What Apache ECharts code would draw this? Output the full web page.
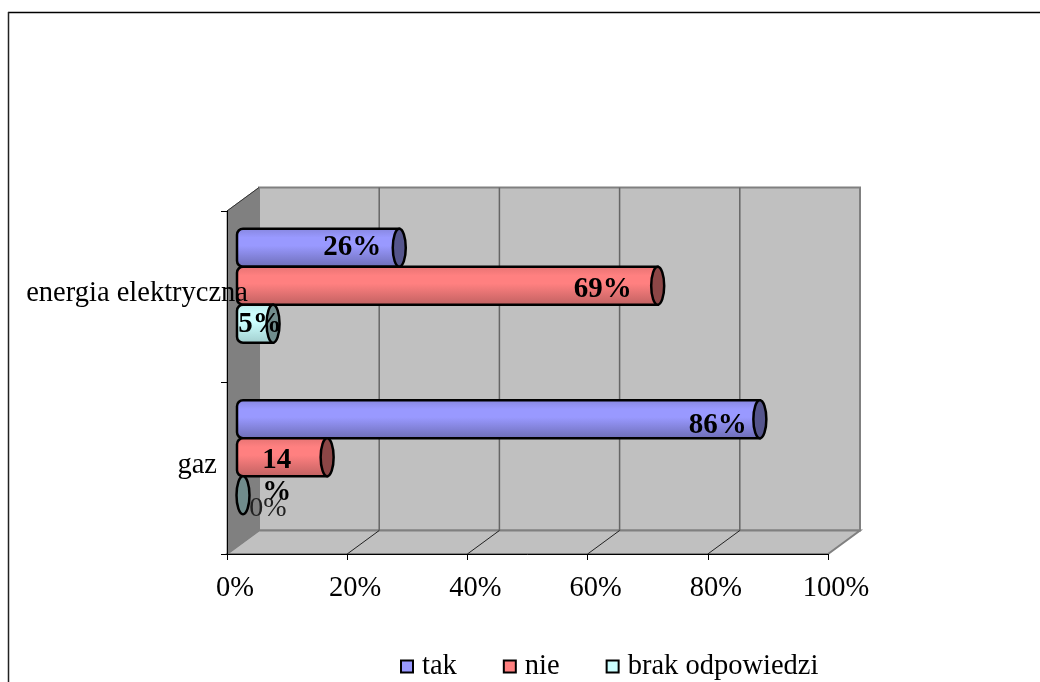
<!DOCTYPE html>
<html>
<head>
<meta charset="utf-8">
<style>html,body{margin:0;padding:0;background:#fff}#chart{width:1040px;height:682px}</style>
<script src="https://cdn.jsdelivr.net/npm/echarts@6/dist/echarts.min.js"></script>
</head>
<body>
<div id="chart"></div>
<script>
// Answers by energy source, share of respondents in percent
const categories = ['gaz', 'energia elektryczna'];
const tak = [86, 26];
const nie = [14, 69];
const brakOdpowiedzi = [0, 5];
const percentTicks = [0, 20, 40, 60, 80, 100];

const FONT = '"Liberation Serif", serif';
const DEPTH_X = 32, DEPTH_Y = -23.5;   // oblique offset of the back wall
const BAR_DX = 16, BAR_DY = -11;       // bars sit midway into the depth
const BAR_H = 38, CAP_RX = 6.5;

const palettes = {
  tak: { face: '#9999FF', top: '#8585DC', bottom: '#6C6CB4', cap: '#55558C' },
  nie: { face: '#FF8080', top: '#E47272', bottom: '#BE6060', cap: '#8C4646' },
  brak: { face: '#CCFFFF', top: '#BBEBEB', bottom: '#A0CCCC', cap: '#708C8C' }
};

// Hand placement of the value labels, relative to the bar's end cap
const labelPlacement = {
  'tak-0': { dx: -42, dy: 6 }, 'tak-1': { dx: -47, dy: 0 },
  'nie-0': { dx: -65, dy: 19, align: 'left' }, 'nie-1': { dx: -55, dy: 4 },
  'brak-0': { dx: 25, dy: 13 }, 'brak-1': { dx: -13, dy: 1 }
};

// Back wall, side wall, floor and their gridlines, taken from the grid rectangle
function renderWalls(params, api) {
  const x0 = params.coordSys.x, x1 = x0 + params.coordSys.width;
  const yTop = params.coordSys.y, yBottom = yTop + params.coordSys.height;
  const gray = '#808080';
  const children = [
    { type: 'polygon', shape: { points: [[x0 + DEPTH_X, yBottom + DEPTH_Y], [x1 + DEPTH_X, yBottom + DEPTH_Y], [x1 + DEPTH_X, yTop + DEPTH_Y], [x0 + DEPTH_X, yTop + DEPTH_Y]] },
      style: { fill: '#C0C0C0', stroke: gray, lineWidth: 2 } },
    { type: 'polygon', shape: { points: [[x0, yBottom], [x1, yBottom], [x1 + DEPTH_X, yBottom + DEPTH_Y], [x0 + DEPTH_X, yBottom + DEPTH_Y]] },
      style: { fill: '#C0C0C0', stroke: gray, lineWidth: 2 } },
    { type: 'polygon', shape: { points: [[x0, yBottom], [x0 + DEPTH_X, yBottom + DEPTH_Y], [x0 + DEPTH_X, yTop + DEPTH_Y], [x0, yTop]] },
      style: { fill: gray, stroke: gray, lineWidth: 1 } },
    { type: 'line', shape: { x1: x0, y1: yTop, x2: x0 + DEPTH_X, y2: yTop + DEPTH_Y }, style: { stroke: '#333', lineWidth: 1 } }
  ];
  percentTicks.forEach(function (t) {
    const x = api.coord([t, 0])[0];
    if (t > 0 && t < 100) {
      children.push({ type: 'line', shape: { x1: x + DEPTH_X, y1: yBottom + DEPTH_Y, x2: x + DEPTH_X, y2: yTop + DEPTH_Y }, style: { stroke: '#666', lineWidth: 1.5 } });
      children.push({ type: 'line', shape: { x1: x, y1: yBottom, x2: x + DEPTH_X, y2: yBottom + DEPTH_Y }, style: { stroke: '#222', lineWidth: 1 } });
    }
  });
  return { type: 'group', children: children };
}

// A horizontal cylinder whose end cap lands on the value
function cylinderRenderer(key, rowOffset) {
  const pal = palettes[key];
  return function (params, api) {
    const value = api.value(0), cat = api.value(1);
    const end = api.coord([value, cat]);
    const base = api.coord([0, cat]);
    const xe = end[0] + BAR_DX;
    const xb = base[0] + BAR_DX - 6;
    const yc = end[1] + BAR_DY + rowOffset * BAR_H;
    const children = [];
    if (value > 0) {
      children.push({
        type: 'rect',
        shape: { x: xb, y: yc - BAR_H / 2, width: xe - xb, height: BAR_H, r: [6, 0, 0, 6] },
        style: {
          fill: { type: 'linear', x: 0, y: 0, x2: 0, y2: 1, colorStops: [
            { offset: 0, color: pal.top }, { offset: 0.25, color: pal.face },
            { offset: 0.45, color: pal.face }, { offset: 1, color: pal.bottom }] },
          stroke: '#000', lineWidth: 2.5
        }
      });
    }
    children.push({
      type: 'ellipse',
      shape: { cx: xe, cy: yc, rx: CAP_RX, ry: BAR_H / 2 },
      style: { fill: pal.cap, stroke: '#000', lineWidth: 2.5 }
    });
    const place = labelPlacement[key + '-' + cat];
    const zero = value === 0;
    // The 14% label breaks before the percent sign in its narrow slot
    const text = value === 14 ? value + '\n%' : value + '%';
    children.push({
      type: 'text', z2: 50,
      style: {
        x: xe + place.dx, y: yc + place.dy, text: text, align: place.align || 'center', verticalAlign: 'middle',
        fill: zero ? '#222' : '#000', lineHeight: 32,
        font: (zero ? '' : 'bold ') + (zero ? 28 : 29) + 'px ' + FONT
      }
    });
    return { type: 'group', children: children };
  };
}

function barSeries(name, key, values, rowOffset) {
  return {
    name: name, type: 'custom', z: 4, clip: false,
    renderItem: cylinderRenderer(key, rowOffset),
    encode: { x: 0, y: 1 },
    itemStyle: { color: palettes[key].face, borderColor: '#000', borderWidth: 2.5 },
    data: values.map(function (v, i) { return [v, i]; })
  };
}

const chart = echarts.init(document.getElementById('chart'), null, { renderer: 'canvas' });
chart.setOption({
  animation: false,
  backgroundColor: '#fff',
  grid: { left: 227, right: 212, top: 211, bottom: 128 },
  legend: {
    data: ['tak', 'nie', 'brak odpowiedzi'],
    left: 395, top: 647,
    itemWidth: 12, itemHeight: 12, itemGap: 46,
    icon: 'rect',
    textStyle: { fontFamily: FONT, fontSize: 28.5, color: '#000', padding: [0, 0, 0, 4] }
  },
  xAxis: {
    type: 'value', min: 0, max: 100, interval: 20, z: 3,
    axisLine: { show: true, lineStyle: { color: '#000', width: 1 } },
    axisTick: { show: true, length: 6, lineStyle: { color: '#000' } },
    splitLine: { show: false },
    axisLabel: {
      margin: 20, color: '#000', fontFamily: FONT, fontSize: 28.5,
      padding: [0, 0, 0, 16],
      formatter: function (v) { return v + '%'; }
    }
  },
  yAxis: {
    type: 'category', data: categories, z: 6,
    axisLine: { show: true, lineStyle: { color: '#000', width: 1 } },
    axisTick: { show: true, length: 6, lineStyle: { color: '#000' } },
    splitLine: { show: false },
    axisLabel: {
      margin: -21, color: '#000', fontFamily: FONT, fontSize: 28.5,
      formatter: function (v) { return v === 'gaz' ? '{g|' + v + '}' : '{e|' + v + '}'; },
      rich: {
        g: { fontFamily: FONT, fontSize: 28.5, padding: [0, 31, 6, 0] },
        e: { fontFamily: FONT, fontSize: 28.5, padding: [0, 0, 6, 0] }
      }
    }
  },
  series: [
    { name: 'walls', type: 'custom', z: 1, clip: false, silent: true, renderItem: renderWalls, data: [[0, 0]], encode: { x: 0, y: 1 } },
    barSeries('tak', 'tak', tak, -1),
    barSeries('nie', 'nie', nie, 0),
    barSeries('brak odpowiedzi', 'brak', brakOdpowiedzi, 1)
  ],
  graphic: [
    // Outer frame: only the top and left edges fall inside the page
    { type: 'line', shape: { x1: 8, y1: 12.5, x2: 1040, y2: 12.5 }, style: { stroke: '#000', lineWidth: 1.5 } },
    { type: 'line', shape: { x1: 8.5, y1: 12, x2: 8.5, y2: 682 }, style: { stroke: '#222', lineWidth: 1.5 } }
  ]
});
</script>
</body>
</html>
